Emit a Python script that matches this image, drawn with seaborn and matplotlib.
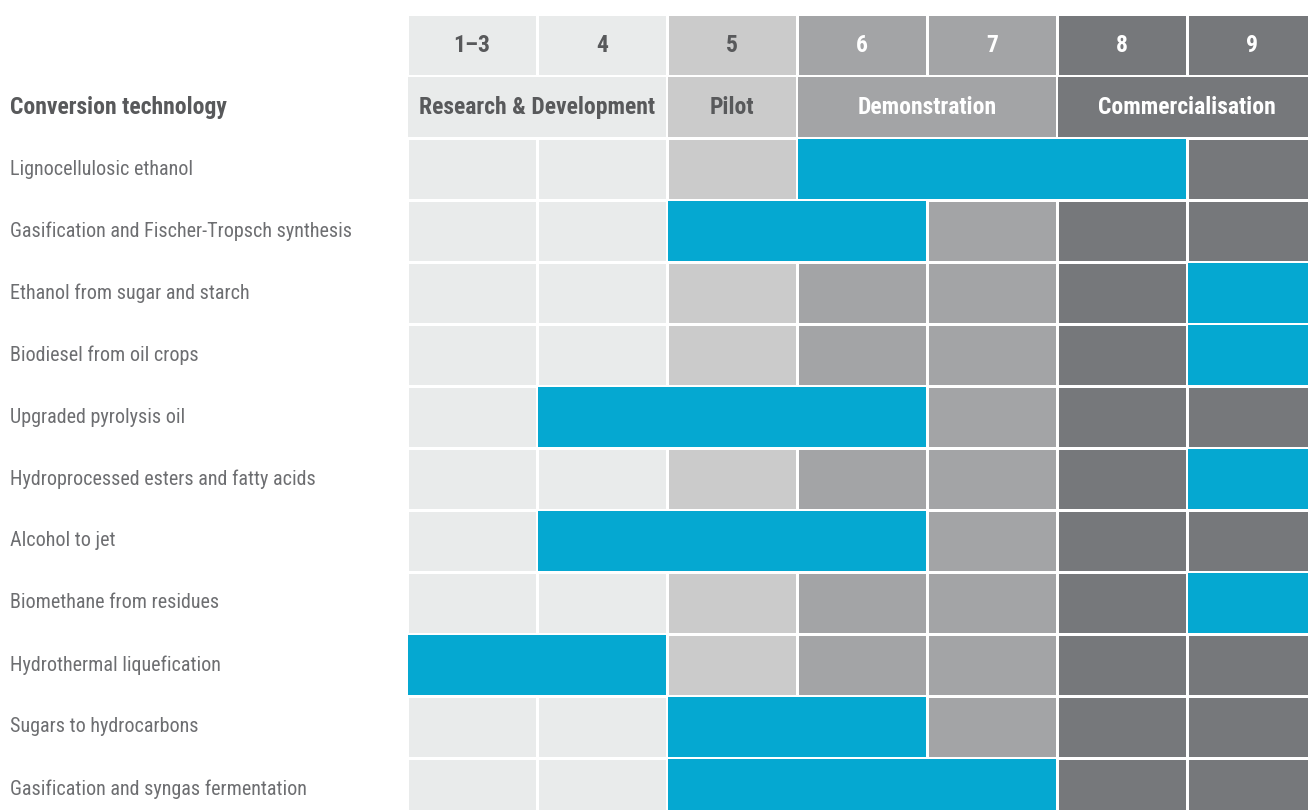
#!/usr/bin/env python3
# -*- coding: utf-8 -*-
"""
Technology readiness of biofuel conversion routes
"""

#%% Libraries

import numpy as np
import matplotlib
matplotlib.use("Agg")
import matplotlib.pyplot as plt
import matplotlib.transforms as mtransforms
from matplotlib.colors import ListedColormap
import seaborn as sns

#%% Data

trl_labels = ['1–3', '4', '5', '6', '7', '8', '9']
stage_names = ['Research & Development', 'Pilot', 'Demonstration', 'Commercialisation']
stage_of_trl = [0, 0, 1, 2, 2, 3, 3]

technologies = ['Lignocellulosic ethanol',
                'Gasification and Fischer-Tropsch synthesis',
                'Ethanol from sugar and starch',
                'Biodiesel from oil crops',
                'Upgraded pyrolysis oil',
                'Hydroprocessed esters and fatty acids',
                'Alcohol to jet',
                'Biomethane from residues',
                'Hydrothermal liquefication',
                'Sugars to hydrocarbons',
                'Gasification and syngas fermentation']
# first and last TRL column covered by the blue bar
bar_from = ['6', '5', '9', '9', '4', '9', '4', '9', '1–3', '5', '5']
bar_to = ['8', '6', '9', '9', '6', '9', '6', '9', '4', '6', '7']

#%% Style

stage_colors = ['#E9EBEB', '#CBCBCB', '#A3A4A6', '#76787B']
blue = '#05A8D1'
dark_text = '#58595B'
label_text = '#6D6E71'

sns.set_theme(style='white')
plt.rcParams['font.family'] = ['Roboto Condensed', 'DejaVu Sans Condensed', 'DejaVu Sans']
plt.rcParams['font.stretch'] = 'condensed'

W, H = 1308, 810
fig = plt.figure(figsize=(W / 100, H / 100), dpi=100)
col_w, row_h = 130, 62
n_rows = 2 + len(technologies)
left_px, top_px = 407, 14
ax = fig.add_axes([left_px / W, 1 - (top_px + n_rows * row_h) / H,
                   len(trl_labels) * col_w / W, n_rows * row_h / H])

#%% Background grid

grid = np.tile(stage_of_trl, (n_rows, 1))
sns.heatmap(grid, ax=ax, cmap=ListedColormap(stage_colors), vmin=-0.5, vmax=3.5,
            cbar=False, linewidths=2, linecolor='white',
            xticklabels=False, yticklabels=False)

gx = 1.4 / col_w
gy = 1.4 / row_h

# merged stage header
stage_start = [stage_of_trl.index(s) for s in range(len(stage_names))]
stage_span = [stage_of_trl.count(s) for s in range(len(stage_names))]
ax.barh([1.5] * len(stage_names), [w - 2 * gx for w in stage_span],
        left=[s + gx for s in stage_start], height=1 - 2 * gy,
        color=stage_colors, edgecolor='none')
for s, name in enumerate(stage_names):
    ax.text(stage_start[s] + stage_span[s] / 2, 1.5, name, ha='center', va='center',
            fontsize=17, fontweight='bold',
            color=dark_text if s < 2 else 'white')

# TRL header
for j, lab in enumerate(trl_labels):
    ax.text(j + 0.5, 0.5, lab, ha='center', va='center', fontsize=17,
            fontweight='bold', color=dark_text if stage_of_trl[j] < 2 else 'white')

#%% Blue bars

starts = [trl_labels.index(a) for a in bar_from]
ends = [trl_labels.index(b) + 1 for b in bar_to]
ypos = np.arange(len(technologies)) + 2.5
ax.barh(ypos, [e - s - 2 * gx for s, e in zip(starts, ends)],
        left=[s + gx for s in starts], height=1 - 2 * gy, color=blue, edgecolor='none')

#%% Row labels

trans = mtransforms.blended_transform_factory(fig.transFigure, ax.transData)
ax.text(10 / W, 1.5, 'Conversion technology', transform=trans, ha='left', va='center',
        fontsize=17, fontweight='bold', color=dark_text)
for y, name in zip(ypos, technologies):
    ax.text(10 / W, y, name, transform=trans, ha='left', va='center',
            fontsize=14.5, color=label_text)

ax.set_xlim(0, len(trl_labels))
ax.set_ylim(n_rows, 0)
ax.set_xticks([])
ax.set_yticks([])
for sp in ax.spines.values():
    sp.set_visible(False)

plt.savefig('out.png', dpi=100)
